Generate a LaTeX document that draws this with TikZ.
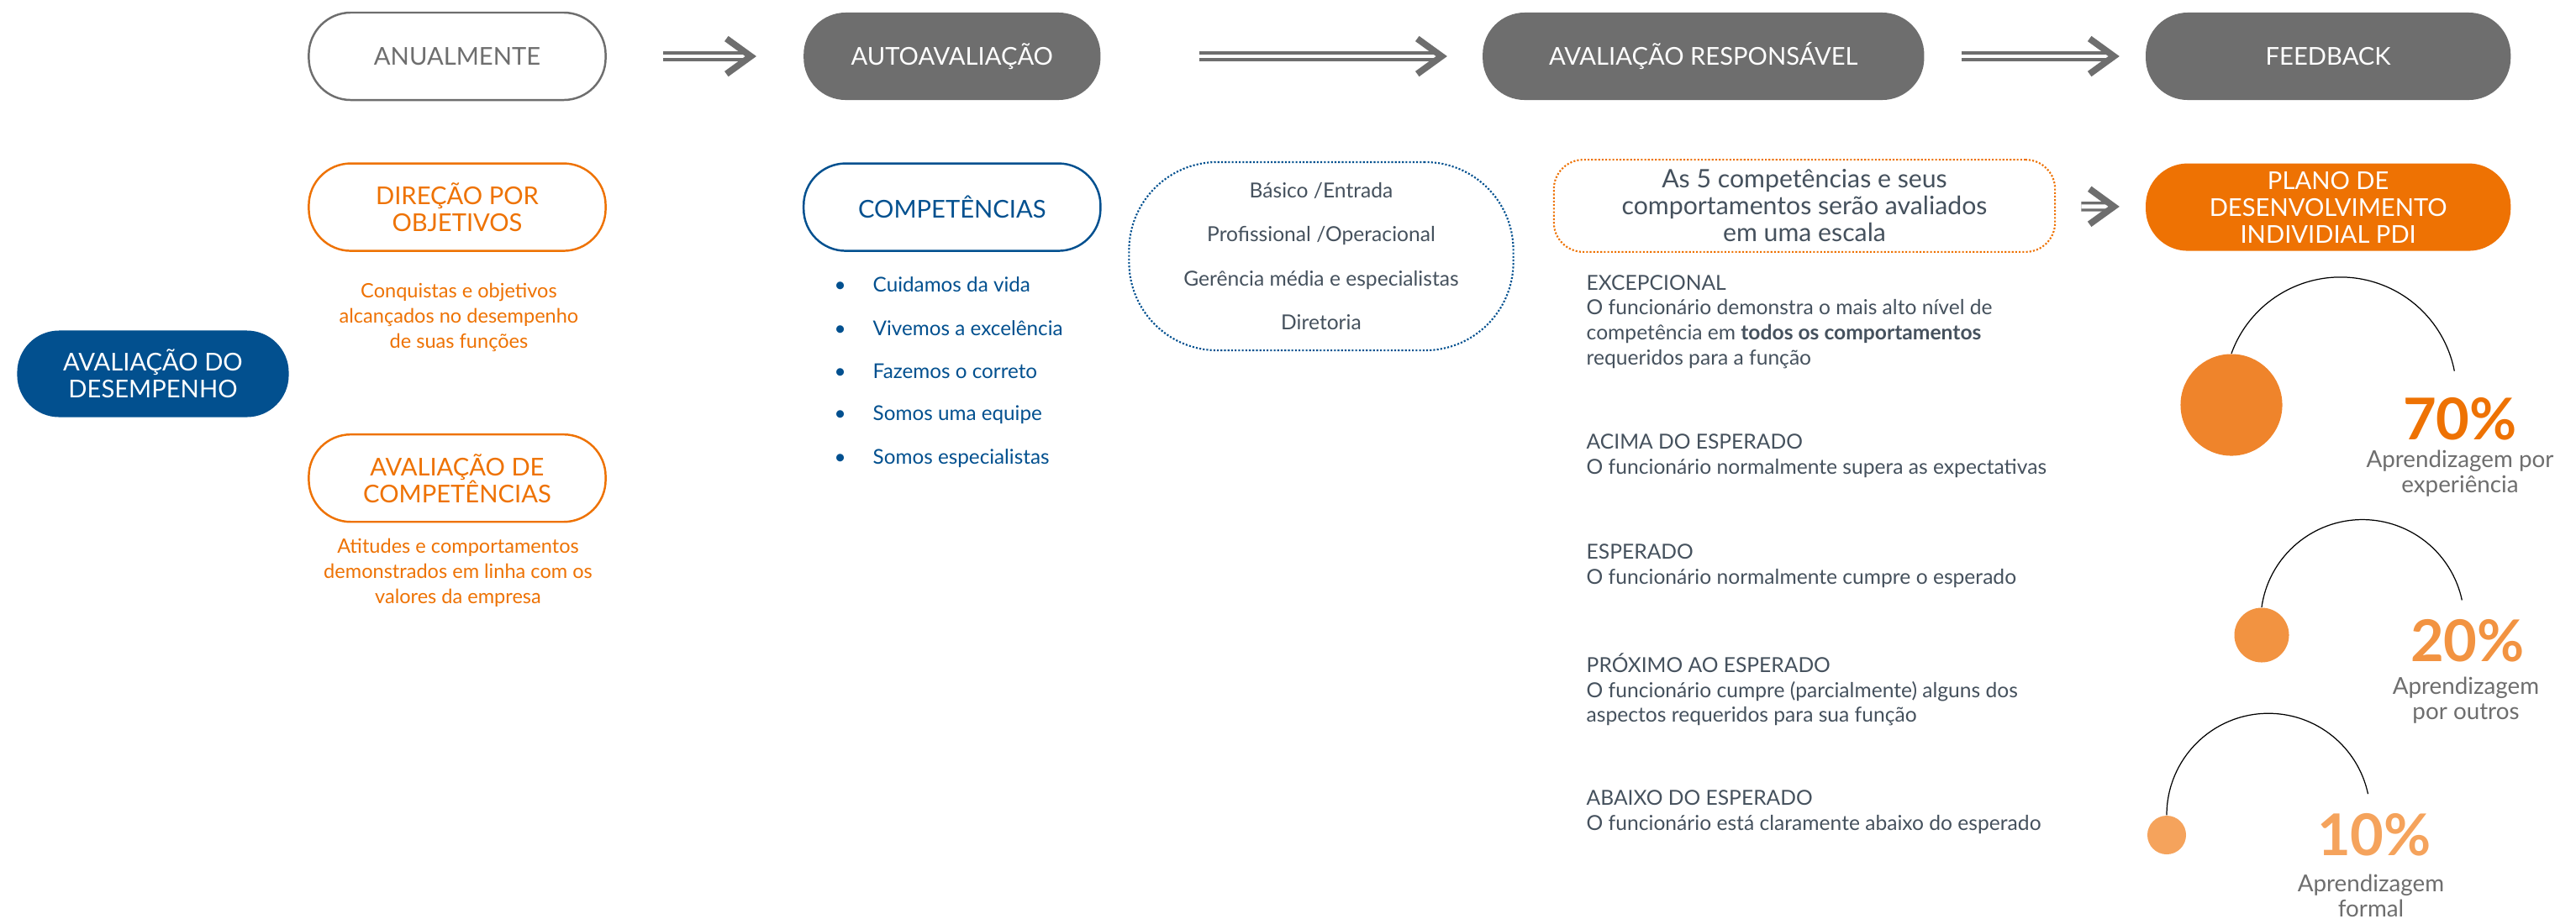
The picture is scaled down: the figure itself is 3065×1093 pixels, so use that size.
\documentclass[tikz,border=0pt]{standalone}
\usepackage{fontspec}
\setmainfont{Lato}
\usepackage{xcolor}
\usepackage{tikz}
\usetikzlibrary{arrows.meta,positioning}
\definecolor{greyc}{HTML}{6E6E6E}
\definecolor{bluec}{HTML}{02508F}
\definecolor{orangec}{HTML}{EE7203}
\definecolor{slatec}{HTML}{45515D}
\definecolor{dotsev}{HTML}{EF842B}
\definecolor{dottwo}{HTML}{F29341}
\definecolor{dotone}{HTML}{F5A35C}
\newcommand{\pillfont}{\fontsize{8.3}{9.1}\selectfont}
\newcommand{\bodyfont}{\fontsize{7}{8.45}\selectfont}

\begin{document}
\begin{tikzpicture}[
  x=0.01cm, y=-0.01cm,
  pill/.style={rectangle,rounded corners=0.5cm,minimum width=3.53cm,
               minimum height=1.04cm,align=center,inner sep=2pt,font=\pillfont,
               line width=0.7pt},
  gpill/.style={pill,fill=greyc,text=white},
  opill/.style={pill,draw=orangec,text=orangec},
  desc/.style={align=center,font=\fontsize{6.7}{8.45}\selectfont,text=orangec,inner sep=0pt},
  item/.style={anchor=west,font=\fontsize{6.9}{8.45}\selectfont,text=bluec,inner sep=0pt},
  level/.style={anchor=west,align=left,font=\bodyfont,text=slatec,inner sep=0pt},
  dense dots/.style={line width=0.6pt,dash pattern=on 0.6pt off 0.6pt},
  ar/.style={greyc,line width=0.95pt,double=white,double distance=1.4pt,
             -{Straight Barb[length=0.29cm,width=0.42cm,line width=2.2pt]}},
  dot/.style={circle,inner sep=0pt},
  arcline/.style={line width=0.35pt,black},
  pct/.style={font=\fontsize{19.5}{19.5}\selectfont\bfseries,inner sep=0pt},
  learn/.style={align=center,font=\fontsize{7.9}{8.5}\selectfont,text=greyc,inner sep=0pt},
]
\fill[white] (0,0) rectangle (3065,1093);
\useasboundingbox (0,0) rectangle (3065,1093);

\node[pill,fill=bluec,text=white,minimum width=3.23cm,minimum height=1.03cm] (desemp)
  at (182,445) {AVALIAÇÃO DO\\DESEMPENHO};

\node[pill,draw=greyc,text=greyc] (anual) at (544,67) {ANUALMENTE};
\node[opill,below=0.73cm of anual] (direcao) {DIREÇÃO POR\\OBJETIVOS};
\node[desc] (dirtxt) at (546,378)
  {Conquistas e objetivos\\alcançados no desempenho\\de suas funções};
\node[opill,below=2.16cm of direcao] (avcomp) {AVALIAÇÃO DE\\COMPETÊNCIAS};
\node[desc] (avctxt) at (545,682)
  {Atitudes e comportamentos\\demonstrados em linha com os\\valores da empresa};

\node[gpill,right=2.33cm of anual] (auto) {AUTOAVALIAÇÃO};
\node[pill,draw=bluec,text=bluec,below=0.73cm of auto] (comp) {COMPETÊNCIAS};
\node[item] (vida) at (992,339) {\makebox[0.46cm][l]{•}Cuidamos da vida};
\node[item] (exce) at (992,391) {\makebox[0.46cm][l]{•}Vivemos a excelência};
\node[item] (corr) at (992,442) {\makebox[0.46cm][l]{•}Fazemos o correto};
\node[item] (equi) at (992,494) {\makebox[0.46cm][l]{•}Somos uma equipe};
\node[item] (espe) at (992,546) {\makebox[0.46cm][l]{•}Somos especialistas};

\node[draw=bluec,dense dots,rounded corners=1.05cm,minimum width=4.57cm,
      minimum height=2.24cm,align=center,text=slatec,
      font=\fontsize{7}{14.8}\selectfont] (niveis) at (1572,305)
  {Básico /Entrada\\Profissional /Operacional\\Gerência média e especialistas\\Diretoria};

\node[gpill,minimum width=5.25cm,right=4.52cm of auto] (avresp) {AVALIAÇÃO RESPONSÁVEL};
\node[gpill,minimum width=4.34cm,right=2.61cm of avresp] (feedback) {FEEDBACK};
\node[pill,fill=orangec,text=white,minimum width=4.34cm,below=0.73cm of feedback] (pdi)
  {PLANO DE\\DESENVOLVIMENTO\\INDIVIDIAL PDI};

\node[draw=orangec,dense dots,rounded corners=0.35cm,minimum width=5.96cm,
      minimum height=1.05cm,align=center,text=slatec,
      font=\fontsize{8.6}{9.1}\selectfont] (escala) at (2147,245)
  {As 5 competências e seus\\comportamentos serão avaliados\\em uma escala};

\node[level] (excep) at (1887,383)
  {EXCEPCIONAL\\O funcionário demonstra o mais alto nível de\\competência em
   \textbf{todos os comportamentos}\\requeridos para a função};
\node[level] (acima) at (1887,543)
  {ACIMA DO ESPERADO\\O funcionário normalmente supera as expectativas};
\node[level] (esper) at (1887,674)
  {ESPERADO\\O funcionário normalmente cumpre o esperado};
\node[level] (proxi) at (1887,821)
  {PRÓXIMO AO ESPERADO\\O funcionário cumpre (parcialmente) alguns dos\\aspectos requeridos para sua função};
\node[level] (abaix) at (1887,967)
  {ABAIXO DO ESPERADO\\O funcionário está claramente abaixo do esperado};

\draw[ar,shorten <=0.67cm,shorten >=0.55cm] (anual) -- (auto);
\draw[ar,shorten <=1.16cm,shorten >=0.41cm] (auto) -- (avresp);
\draw[ar,shorten <=0.43cm,shorten >=0.30cm] (avresp) -- (feedback);
\draw[ar,shorten <=0.30cm,shorten >=0.30cm] (escala) -- (pdi);

% 70-20-10
\node[dot,fill=dotsev,minimum size=1.21cm] (csev) at (2655,482) {};
\draw[arcline] (csev.north) arc[start angle=160,end angle=11,radius=1.38cm];
\node[pct,text=orangec] (psev) at (2927,499) {70\%};
\node[learn] (lsev) at (2927,564) {Aprendizagem por\\experiência};

\node[dot,fill=dottwo,minimum size=0.65cm] (ctwo) at (2691,756) {};
\draw[arcline] (ctwo.north) arc[start angle=172,end angle=12,radius=1.21cm];
\node[pct,text=dottwo] (ptwo) at (2936,763) {20\%};
\node[learn] (ltwo) at (2934,834) {Aprendizagem\\por outros};

\node[dot,fill=dotone,minimum size=0.46cm] (cone) at (2578,994) {};
\draw[arcline] (cone.north) arc[start angle=180,end angle=12,radius=1.21cm];
\node[pct,text=dotone] (pone) at (2825,994) {10\%};
\node[learn] (lone) at (2821,1066) {Aprendizagem\\formal};
\end{tikzpicture}
\end{document}
